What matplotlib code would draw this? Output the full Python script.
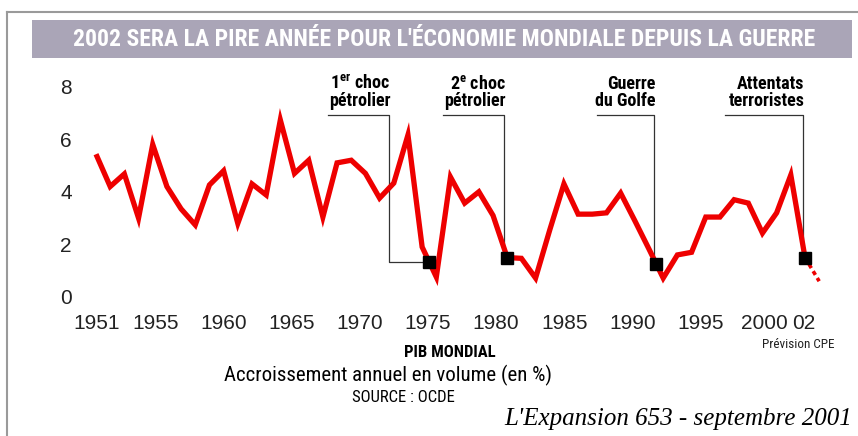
import numpy as np
import matplotlib.pyplot as plt
from matplotlib.patches import Rectangle
from matplotlib.lines import Line2D

plt.rcParams['figure.dpi'] = 100
plt.rcParams['font.family'] = ['Liberation Sans', 'DejaVu Sans']
plt.rcParams['mathtext.fontset'] = 'custom'
plt.rcParams['mathtext.bf'] = 'Roboto Condensed:bold'
plt.rcParams['mathtext.rm'] = 'Roboto Condensed'

NARROW = ['Roboto Condensed', 'Liberation Sans Narrow', 'Liberation Sans', 'DejaVu Sans']

# PIB mondial, croissance annuelle en volume (%)
years = np.arange(1951, 2002)
growth = [5.43, 4.2, 4.68, 3.0, 5.8, 4.2, 3.35, 2.74, 4.26, 4.8,
          2.8, 4.3, 3.88, 6.73, 4.7, 5.2, 3.04, 5.1, 5.2, 4.7,
          3.76, 4.33, 6.16, 1.9, 0.76, 4.56, 3.57, 4.0, 3.1, 1.5,
          1.47, 0.72, 2.55, 4.3, 3.15, 3.15, 3.2, 3.95, 2.9, 1.82,
          0.72, 1.6, 1.7, 3.04, 3.04, 3.7, 3.57, 2.43, 3.2, 4.64,
          1.5]
forecast_years = [2001, 2002]
forecast = [1.5, 0.6]

# evenements : libelle, annee du repere
event_labels = ['1$^{\\mathbf{er}}$ choc\npétrolier', '2$^{\\mathbf{e}}$ choc\npétrolier',
                'Guerre\ndu Golfe', 'Attentats\nterroristes']
event_years = [1974.5, 1980, 1990.5, 2001]

tick_labels = ['1951', '1955', '1960', '1965', '1970', '1975', '1980',
               '1985', '1990', '1995', '2000', '02']
yticks = [0, 2, 4, 6, 8]

title = "2002 SERA LA PIRE ANNÉE POUR L'ÉCONOMIE MONDIALE DEPUIS LA GUERRE"

W, H = 858, 436
fig = plt.figure(figsize=(W / 100, H / 100))
fig.patch.set_facecolor('white')

# pixel -> annee / valeur
px_per_year = 14.18
px_per_unit = 26.3
def yr(px):
    return 1951 + (px - 96) / px_per_year

ax = fig.add_axes([80 / W, 1 - 300 / H, 760 / W, 240 / H])
ax.set_xlim(yr(80), yr(840))
ax.set_ylim((297 - 300) / px_per_unit, (297 - 60) / px_per_unit)
for s in ax.spines.values():
    s.set_visible(False)
ax.set_facecolor('none')

ax.plot(years, growth, color='#ee0000', lw=3.8, solid_joinstyle='miter',
        solid_capstyle='butt', zorder=3, clip_on=False)
ax.plot(forecast_years, forecast, color='#ee0000', lw=2.6,
        linestyle=(0, (1.2, 1.0)), zorder=3, clip_on=False)

# leaders et reperes
lead_y = (297 - 115) / px_per_unit
text_y = (297 - 110) / px_per_unit
vert_x = [yr(389), yr(504), yr(654), yr(803)]
left_x = [yr(328), yr(443), yr(597), yr(725)]
for lab, ey, vx, lx in zip(event_labels, event_years, vert_x, left_x):
    ev = np.interp(ey, years, growth)
    ax.plot([lx, vx, vx, ey], [lead_y, lead_y, ev, ev], color='#333333',
            lw=0.9, zorder=2, clip_on=False)
    ax.plot([ey], [ev], marker='s', color='black', ms=8.5, zorder=4,
            clip_on=False)
    ax.text(vx + 0.1, text_y, lab, ha='right', va='bottom',
            multialignment='right', fontsize=13, fontweight='bold',
            family=NARROW, linespacing=0.95)

# axes
tick_px = [97, 156, 224, 292, 360, 428, 496, 565, 633, 701, 764, 804]
ax.set_xticks([yr(p) for p in tick_px])
ax.set_xticklabels(tick_labels)
ax.set_yticks(yticks)
ax.tick_params(length=0, labelsize=15, colors='#222222')
ax.tick_params(axis='x', pad=10)
ax.tick_params(axis='y', pad=6)

# bandeau titre
fig.add_artist(Rectangle((32 / W, 1 - 58 / H), 820 / W, 38 / H,
                         transform=fig.transFigure, facecolor='#aaa5b7',
                         edgecolor='none'))
fig.text(444 / W, 1 - 39 / H, title, ha='center', va='center', color='white',
         fontsize=17, fontweight='bold', family=NARROW)

# cadre
fig.add_artist(Line2D([7 / W, 7 / W], [0, 1 - 12 / H], color='#9a9a9a', lw=1.5,
                      transform=fig.transFigure))
fig.add_artist(Line2D([7 / W, 1], [1 - 12 / H, 1 - 12 / H], color='#9a9a9a',
                      lw=1.5, transform=fig.transFigure))

# textes du bas
fig.text(835 / W, 1 - 345 / H, 'Prévision CPE', ha='right', va='center',
         fontsize=9.5, family=NARROW, color='#222222')
fig.text(450 / W, 1 - 352 / H, 'PIB MONDIAL', ha='center', va='center',
         fontsize=12, fontweight='bold', family=NARROW)
fig.text(388 / W, 1 - 375 / H, 'Accroissement annuel en volume (en %)',
         ha='center', va='center', fontsize=15, family=NARROW)
fig.text(403 / W, 1 - 397 / H, 'SOURCE : OCDE', ha='center', va='center',
         fontsize=12, family=NARROW)
fig.text(852 / W, 1 - 419 / H, "L'Expansion 653 - septembre 2001", ha='right',
         va='center', fontsize=18, style='italic',
         family=['Liberation Serif', 'DejaVu Serif'])

fig.savefig('out.png', dpi=100)
